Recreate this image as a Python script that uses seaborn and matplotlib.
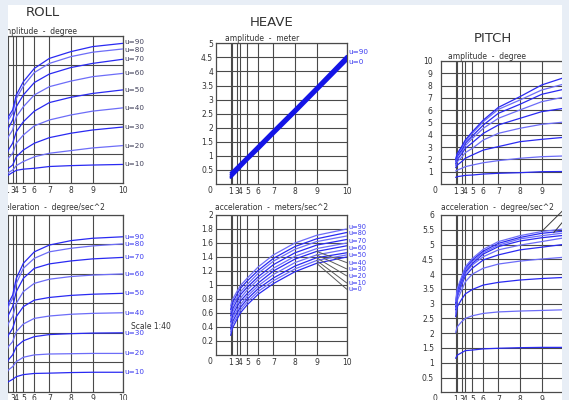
"""
Ship motion response chart - roll / heave / pitch
amplitude and acceleration vs wave period for several headings (u)
"""

import numpy as np
import pandas as pd
import matplotlib
matplotlib.use("Agg")
import matplotlib.pyplot as plt
import seaborn as sns
from matplotlib import font_manager

sns.set_style("white")


def pick_font():
    for fam in ["Liberation Sans Narrow", "DejaVu Sans"]:
        try:
            font_manager.findfont(font_manager.FontProperties(family=fam), fallback_to_default=False)
            return fam
        except ValueError:
            pass
    return "DejaVu Sans"


FONT = pick_font()
plt.rcParams["font.family"] = [FONT, "DejaVu Sans"]

# ----------------------------------------------------------------------------
# DATA
# ----------------------------------------------------------------------------
PERIOD = [1, 2, 3, 4, 5, 6, 7, 8, 9, 10]
X_TICKS = [1, 2, 3, 4, 5, 6, 7, 8, 9, 10]
X_TICK_LABELS = ["1", "", "3", "4", "5", "6", "7", "8", "9", "10"]

ROLL_LABELS = ["u=10", "u=20", "u=30", "u=40", "u=50", "u=60", "u=70", "u=80", "u=90"]

roll_amp = {
    "u=10": [2.2, 2.8, 3.7, 4.4, 4.8, 5.1, 5.7, 6.0, 6.2, 6.4],
    "u=20": [2.8, 3.6, 4.5, 6.0, 7.4, 9.0, 10.2, 11.1, 12.0, 12.8],
    "u=30": [4.2, 5.1, 6.2, 9.0, 11.3, 13.6, 15.5, 17.0, 18.1, 19.1],
    "u=40": [7.0, 8.5, 10.2, 13.6, 16.4, 19.5, 21.5, 23.2, 24.5, 25.6],
    "u=50": [9.5, 11.3, 13.6, 17.5, 20.9, 24.5, 27.4, 29.2, 30.5, 31.7],
    "u=60": [13.5, 15.8, 18.1, 22.6, 26.0, 30.0, 32.8, 34.7, 36.2, 37.3],
    "u=70": [16.0, 18.7, 21.5, 26.0, 30.0, 34.2, 37.1, 39.3, 40.7, 42.1],
    "u=80": [18.5, 21.5, 23.8, 28.8, 33.0, 37.6, 40.7, 43.0, 44.5, 45.6],
    "u=90": [19.5, 22.6, 24.9, 30.0, 34.5, 39.0, 42.4, 44.7, 46.4, 47.5],
}
# tag heights (degree) of the roll amplitude labels
roll_amp_tag_y = {
    "u=10": 6.4, "u=20": 12.8, "u=30": 19.1, "u=40": 25.6, "u=50": 31.7,
    "u=60": 37.3, "u=70": 42.1, "u=80": 45.2, "u=90": 47.8,
}

roll_acc = {
    "u=10": [2.8, 3.4, 4.2, 5.1, 5.8, 6.2, 6.3, 6.5, 6.6, 6.6],
    "u=20": [6.2, 7.4, 8.5, 10.2, 11.7, 12.5, 12.8, 12.9, 13.0, 13.0],
    "u=30": [9.2, 10.8, 12.5, 15.3, 17.3, 18.7, 19.4, 19.7, 19.9, 20.0],
    "u=40": [13.5, 15.3, 17.0, 20.4, 23.0, 24.9, 25.7, 26.3, 26.6, 26.8],
    "u=50": [17.0, 19.2, 21.5, 25.5, 28.9, 31.1, 32.0, 32.7, 33.1, 33.4],
    "u=60": [20.5, 23.2, 25.5, 30.0, 34.0, 36.8, 38.2, 39.1, 39.6, 40.0],
    "u=70": [23.0, 26.0, 28.9, 34.0, 38.5, 41.9, 43.4, 44.4, 45.1, 45.6],
    "u=80": [26.0, 28.9, 31.7, 36.8, 41.9, 45.3, 47.5, 48.7, 49.5, 50.2],
    "u=90": [27.0, 30.0, 32.8, 38.5, 43.6, 47.5, 49.8, 51.3, 52.1, 52.6],
}

heave_amp = {
    "u=0": [0.22, 0.28, 0.44, 0.58, 0.84, 1.22, 1.76, 2.52, 3.30, 4.38],
    "u=30": [0.27, 0.33, 0.49, 0.63, 0.88, 1.27, 1.81, 2.57, 3.35, 4.43],
    "u=60": [0.33, 0.39, 0.54, 0.68, 0.93, 1.32, 1.86, 2.62, 3.40, 4.48],
    "u=90": [0.40, 0.45, 0.60, 0.73, 0.98, 1.37, 1.91, 2.67, 3.45, 4.55],
}

heave_acc = {
    "u=0": [0.28, 0.38, 0.50, 0.60, 0.72, 0.87, 1.02, 1.19, 1.31, 1.40],
    "u=10": [0.33, 0.43, 0.54, 0.64, 0.76, 0.91, 1.06, 1.23, 1.35, 1.43],
    "u=20": [0.37, 0.47, 0.59, 0.68, 0.80, 0.95, 1.10, 1.27, 1.39, 1.46],
    "u=30": [0.42, 0.52, 0.63, 0.72, 0.84, 0.99, 1.15, 1.32, 1.43, 1.51],
    "u=40": [0.47, 0.56, 0.68, 0.77, 0.88, 1.03, 1.20, 1.37, 1.48, 1.56],
    "u=50": [0.51, 0.61, 0.72, 0.81, 0.93, 1.08, 1.24, 1.41, 1.52, 1.60],
    "u=60": [0.56, 0.65, 0.77, 0.86, 0.97, 1.12, 1.29, 1.46, 1.57, 1.65],
    "u=70": [0.61, 0.70, 0.81, 0.90, 1.01, 1.17, 1.34, 1.51, 1.62, 1.70],
    "u=80": [0.65, 0.74, 0.86, 0.95, 1.06, 1.21, 1.38, 1.55, 1.66, 1.75],
    "u=90": [0.70, 0.79, 0.90, 0.99, 1.10, 1.26, 1.43, 1.60, 1.71, 1.80],
}
# label heights (meters/sec^2) where the heave acceleration tags sit
heave_acc_tag_y = {
    "u=90": 1.83, "u=80": 1.74, "u=70": 1.63, "u=60": 1.53, "u=50": 1.43,
    "u=40": 1.32, "u=30": 1.23, "u=20": 1.13, "u=10": 1.03, "u=0": 0.94,
}
heave_acc_leaders = ["u=40", "u=30", "u=20", "u=10", "u=0"]

pitch_amp = {
    "p1": [0.54, 0.60, 0.65, 0.70, 0.73, 0.81, 0.87, 0.92, 1.00, 1.02],
    "p2": [1.06, 1.14, 1.27, 1.41, 1.54, 1.73, 1.90, 2.09, 2.22, 2.30],
    "p3": [1.33, 1.54, 1.82, 2.09, 2.36, 2.76, 3.04, 3.44, 3.63, 3.85],
    "p4": [1.49, 1.82, 2.17, 2.55, 2.90, 3.58, 4.12, 4.53, 4.85, 5.10],
    "p5": [1.63, 2.01, 2.44, 2.90, 3.36, 4.12, 4.80, 5.34, 5.88, 6.25],
    "p6": [1.76, 2.17, 2.63, 3.12, 3.71, 4.53, 5.34, 6.02, 6.69, 7.20],
    "p7": [1.87, 2.30, 2.76, 3.31, 3.90, 4.80, 5.75, 6.48, 7.29, 7.85],
    "p8": [1.95, 2.44, 2.90, 3.44, 4.12, 5.07, 6.07, 6.83, 7.64, 8.30],
    "p9": [2.01, 2.49, 3.04, 3.58, 4.25, 5.20, 6.23, 7.10, 8.05, 8.85],
}

pitch_acc = {
    "c1": [1.15, 1.26, 1.34, 1.41, 1.43, 1.47, 1.49, 1.51, 1.52, 1.52],
    "c2": [2.02, 2.22, 2.39, 2.50, 2.59, 2.67, 2.72, 2.75, 2.77, 2.80],
    "c3": [2.56, 2.90, 3.15, 3.33, 3.48, 3.63, 3.72, 3.80, 3.85, 3.90],
    "c4": [2.67, 3.12, 3.46, 3.74, 4.00, 4.20, 4.34, 4.44, 4.51, 4.59],
    "c5": [2.79, 3.24, 3.63, 3.94, 4.20, 4.48, 4.65, 4.82, 4.91, 5.04],
    "c6": [2.84, 3.29, 3.69, 4.03, 4.31, 4.59, 4.82, 4.98, 5.10, 5.27],
    "c7": [2.90, 3.35, 3.74, 4.08, 4.36, 4.68, 4.93, 5.12, 5.23, 5.34],
    "c8": [2.95, 3.41, 3.80, 4.14, 4.42, 4.73, 4.98, 5.19, 5.30, 5.42],
    "c9": [3.01, 3.46, 3.86, 4.20, 4.48, 4.78, 5.04, 5.24, 5.38, 5.48],
    "c10": [3.07, 3.52, 3.91, 4.25, 4.53, 4.84, 5.10, 5.30, 5.44, 5.56],
}
# leader lines to the (off-page) pitch acceleration tags: (x0, y0, x1, y1)
pitch_acc_leaders = [(9.0, 5.44, 10.0, 6.45), (9.4, 5.40, 10.0, 6.13)]

# ----------------------------------------------------------------------------
# STYLE / LAYOUT
# ----------------------------------------------------------------------------
W, H = 569, 400
BG_STRIP = "#e8eef6"
GRID = "#4a4a4a"
TEXT = "#333333"
BLUES = ["#2a2af2", "#6d6df8"]
TAG_BLUE = "#3c3cf0"

# non-linear period axis of the drawing (period -> fraction of box width)
SCALE_X = [0, 1, 2, 3, 4, 5, 6, 7, 8, 9, 10]
SCALE_POS = [0, 0.112, 0.125, 0.158, 0.186, 0.240, 0.324, 0.439, 0.604, 0.770, 1.0]


def fwd(x):
    return np.interp(x, SCALE_X, SCALE_POS)


def inv(p):
    return np.interp(p, SCALE_POS, SCALE_X)


def px_rect(left, top, width, height):
    return [left / W, 1 - (top + height) / H, width / W, height / H]


def long_frame(series):
    rows = []
    for name, vals in series.items():
        for x, v in zip(PERIOD, vals):
            rows.append((x, v, name))
    return pd.DataFrame(rows, columns=["period", "value", "speed"])


def make_panel(fig, rect, series, ymax, ystep, ylabels, ypad, lw=0.9, palette=None):
    ax = fig.add_axes(px_rect(*rect))
    df = long_frame(series)
    if palette is None:
        names = list(series.keys())
        palette = {n: BLUES[i % 2] for i, n in enumerate(names)}
    sns.lineplot(data=df, x="period", y="value", hue="speed", palette=palette,
                 legend=False, errorbar=None, linewidth=lw, ax=ax, zorder=3)
    ax.set_xscale("function", functions=(fwd, inv))
    ax.set_xlim(0, 10)
    ax.set_ylim(0, ymax)
    ax.set_xticks(X_TICKS, labels=X_TICK_LABELS)
    yt = np.round(np.arange(ystep, ymax + ystep / 2, ystep), 3)
    ax.set_yticks(yt, labels=[f"{v:g}" for v in yt] if ylabels else [""] * len(yt))
    ax.xaxis.set_minor_locator(matplotlib.ticker.NullLocator())
    ax.tick_params(length=0, labelsize=5.5, labelcolor=TEXT)
    ax.tick_params(axis="x", pad=2)
    ax.tick_params(axis="y", pad=ypad)
    ax.grid(True, color=GRID, linewidth=0.8)
    for sp in ax.spines.values():
        sp.set_color(GRID)
        sp.set_linewidth(0.9)
    ax.set_xlabel("")
    ax.set_ylabel("")
    ax.set_facecolor("white")
    if ylabels:
        ax.annotate("0", xy=(0, 0), xycoords="axes fraction", xytext=(-4.5, -4.6),
                    textcoords="offset points", ha="center", va="center",
                    fontsize=5.5, color=TEXT)
    return ax


def subtitle(ax, text, frac, dy):
    ax.annotate(text, xy=(frac, 1), xycoords="axes fraction", xytext=(0, dy),
                textcoords="offset points", ha="center", va="center",
                fontsize=5.5, color=TEXT, annotation_clip=False)


fig = plt.figure(figsize=(W / 100, H / 100), dpi=100)
fig.patch.set_facecolor("white")

# ROLL -----------------------------------------------------------------------
ax_ra = make_panel(fig, (-8, 36, 130.7, 147.3), roll_amp, 50, 10, False, 2)
ax_rc = make_panel(fig, (-8, 215, 130.7, 176.7), roll_acc, 60, 10, False, 2)
yt = ax_ra.get_yaxis_transform()
for name in ROLL_LABELS:
    ax_ra.text(1.015, roll_amp_tag_y[name], name, transform=yt, ha="left", va="center",
               fontsize=5.2, color="#40405a", clip_on=False)
yt = ax_rc.get_yaxis_transform()
for name in ROLL_LABELS:
    ax_rc.text(1.015, roll_acc[name][-1], name, transform=yt, ha="left", va="center",
               fontsize=5.2, color=TAG_BLUE, clip_on=False)
subtitle(ax_ra, "amplitude  -  degree", 0.352, 3.0)
subtitle(ax_rc, "acceleration  -  degree/sec^2", 0.428, 5.5)

# HEAVE ----------------------------------------------------------------------
ax_ha = make_panel(fig, (216, 43.3, 130.7, 140.7), heave_amp, 5, 0.5, True, 2,
                   lw=1.6, palette={n: "#1414e6" for n in heave_amp})
yt = ax_ha.get_yaxis_transform()
ax_ha.text(1.01, 4.70, "u=90", transform=yt, ha="left", va="center", fontsize=5.2,
           color=TAG_BLUE, clip_on=False)
ax_ha.text(1.01, 4.35, "u=0", transform=yt, ha="left", va="center", fontsize=5.2,
           color=TAG_BLUE, clip_on=False)
subtitle(ax_ha, "amplitude  -  meter", 0.352, 3.5)

ax_hc = make_panel(fig, (216, 215, 130.7, 140), heave_acc, 2, 0.2, True, 2)
yt = ax_hc.get_yaxis_transform()
for name, ty in heave_acc_tag_y.items():
    ax_hc.text(1.01, ty, name, transform=yt, ha="left", va="center", fontsize=4.8,
               color=TAG_BLUE, clip_on=False)
for name in heave_acc_leaders:
    ax_hc.plot([9, 10], [heave_acc[name][8], heave_acc_tag_y[name]], color="#5a5a5a",
               linewidth=0.7, zorder=4, clip_on=False)
subtitle(ax_hc, "acceleration  -  meters/sec^2", 0.428, 5.5)

# PITCH ----------------------------------------------------------------------
ax_pa = make_panel(fig, (441, 61, 130.7, 123), pitch_amp, 10, 1, True, 6)
subtitle(ax_pa, "amplitude  -  degree", 0.352, 3.5)
ax_pc = make_panel(fig, (441, 215, 130.7, 177.3), pitch_acc, 6, 0.5, True, 5)
for x0, y0, x1, y1 in pitch_acc_leaders:
    ax_pc.plot([x0, x1], [y0, y1], color="#3a3a3a", linewidth=0.7, zorder=4, clip_on=False)
subtitle(ax_pc, "acceleration  -  degree/sec^2", 0.428, 5.5)

# titles and notes
for txt, x, y in [("ROLL", 42.7, 12.7), ("HEAVE", 271.7, 22.7), ("PITCH", 493, 38.3)]:
    fig.text(x / W, 1 - y / H, txt, ha="center", va="center", fontsize=9.5, color=TEXT)
fig.text(151 / W, 1 - 326.7 / H, "Scale 1:40", ha="center", va="center",
         fontsize=5.5, color=TEXT)

# window frame strips
for (x, y, w, h) in [(0, 0, 8, H), (0, 0, W, 5), (562, 0, 7, H)]:
    fig.add_artist(plt.Rectangle((x / W, 1 - (y + h) / H), w / W, h / H,
                                 transform=fig.transFigure, color=BG_STRIP,
                                 zorder=20, linewidth=0))

fig.savefig("out.png", dpi=100)
plt.close(fig)
